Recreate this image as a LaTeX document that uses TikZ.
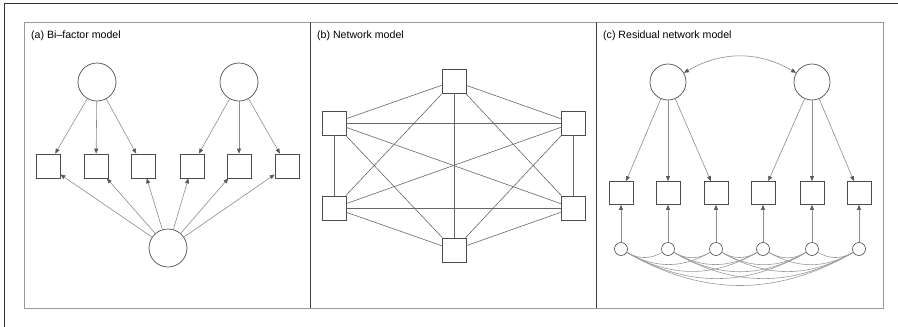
\documentclass[tikz,border=0pt]{standalone}
\usepackage{fontspec}
\setmainfont{Liberation Sans}
\usetikzlibrary{arrows.meta}

\begin{document}
\begin{tikzpicture}[x=1pt,y=-1pt,
    obs/.style={draw=black!70, line width=0.7pt, minimum size=24pt, inner sep=0pt},
    lat/.style={circle, draw=black!70, line width=0.7pt, minimum size=38pt, inner sep=0pt},
    res/.style={circle, draw=black!70, line width=0.6pt, minimum size=13pt, inner sep=0pt},
    load/.style={draw=black!45, line width=0.6pt, -{Triangle[length=5pt,width=4pt,color=black!65]}},
    edge/.style={draw=black!60, line width=0.6pt},
    title/.style={anchor=base west, inner sep=0pt, font=\fontsize{10.6}{12}\selectfont}]
    \useasboundingbox (0,0) rectangle (898,327);

    % Frames
    \draw[black!80, line width=1pt] (898,3.5) -- (4.5,3.5) -- (4.5,327);
    \draw[black!40, line width=0.8pt] (24,22) rectangle (883,308);
    \draw[black!75, line width=1pt] (310,22) -- (310,308) (596,22) -- (596,308);

    % Titles
    \node[title] (ta) at (31,38.5) {(a) Bi--factor model};
    \node[title] (tb) at (317,38.5) {(b) Network model};
    \node[title] (tc) at (603,38.5) {(c) Residual network model};

    % (a) Bi-factor model
    \node[lat] (sa1) at (97,82) {};
    \node[lat] (sa2) at (239,82) {};
    \node[lat] (ga) at (168,248) {};
    \foreach \i/\x in {1/48,2/96,3/143,4/192,5/239,6/287}
        \node[obs] (a\i) at (\x,166) {};
    \foreach \i in {1,2,3} \draw[load] (sa1) -- (a\i);
    \foreach \i in {4,5,6} \draw[load] (sa2) -- (a\i);
    \foreach \i in {1,...,6} \draw[load] (ga) -- (a\i);

    % (b) Network model
    \node[obs] (b1) at (454,81) {};
    \node[obs] (b2) at (573,123) {};
    \node[obs] (b3) at (573,208) {};
    \node[obs] (b4) at (454,250) {};
    \node[obs] (b5) at (334,208) {};
    \node[obs] (b6) at (334,123) {};
    \foreach \i in {1,...,5} {
        \pgfmathtruncatemacro\nxt{\i+1}
        \foreach \j in {\nxt,...,6} \draw[edge] (b\i) -- (b\j);
    }

    % (c) Residual network model
    \node[lat, minimum size=36pt] (sc1) at (668,82) {};
    \node[lat, minimum size=36pt] (sc2) at (812,82) {};
    \draw[load, {Triangle[length=5pt,width=4pt,color=black!65]}-{Triangle[length=5pt,width=4pt,color=black!65]}]
        (sc1) to[bend left=30] (sc2);
    \foreach \i/\x in {1/621,2/668,3/716,4/763,5/812,6/859} {
        \node[obs, minimum height=23pt] (c\i) at (\x,193) {};
        \node[res] (r\i) at (\x,249) {};
        \draw[load] (r\i) -- (c\i);
    }
    \foreach \i in {1,2,3} \draw[load] (sc1) -- (c\i);
    \foreach \i in {4,5,6} \draw[load] (sc2) -- (c\i);
    \foreach \i in {1,...,5} {
        \pgfmathtruncatemacro\nxt{\i+1}
        \foreach \j in {\nxt,...,6} \draw[edge, draw=black!40] (r\i) to[bend right=30] (r\j);
    }
\end{tikzpicture}
\end{document}
